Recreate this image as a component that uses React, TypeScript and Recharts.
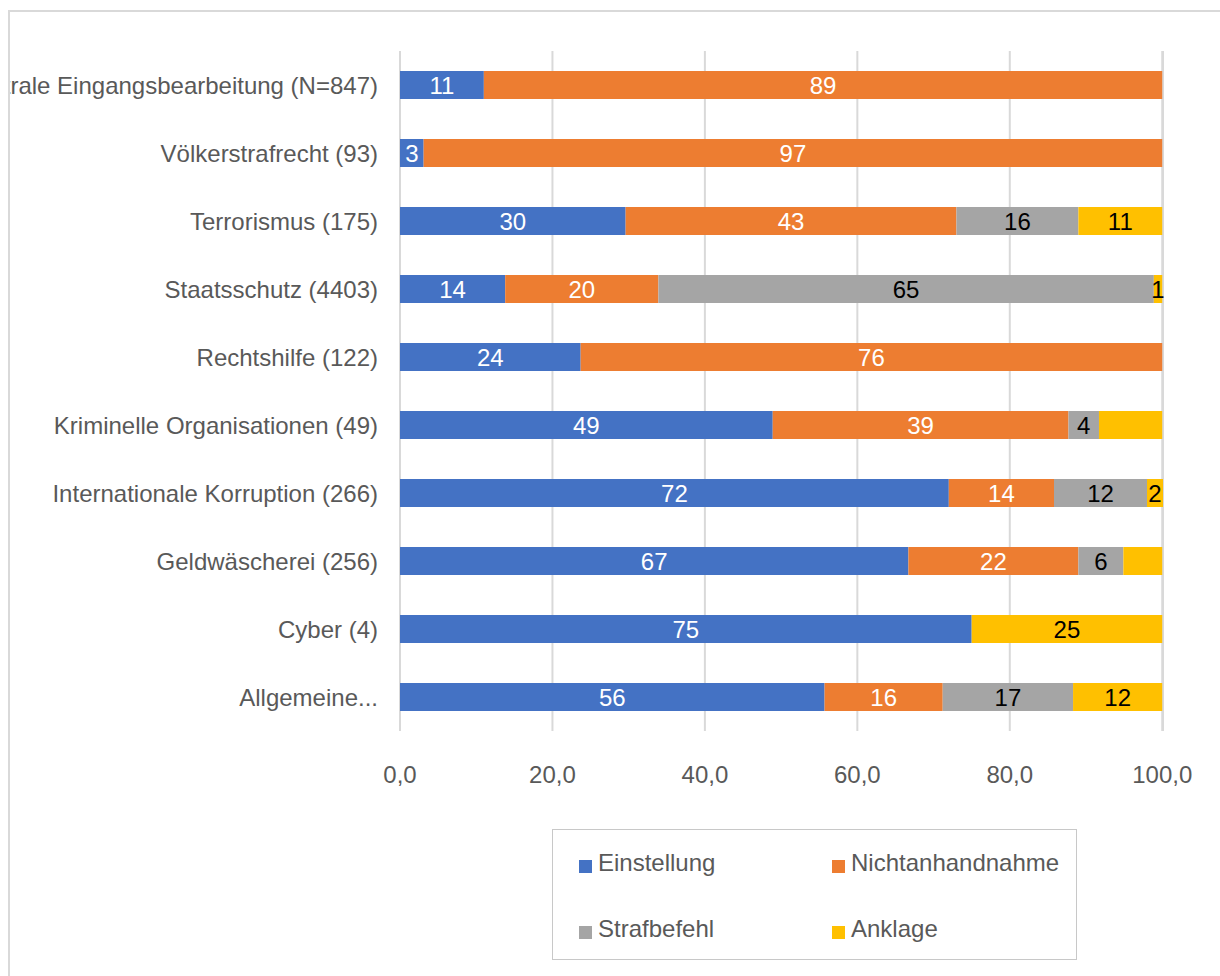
import { Bar, BarChart, CartesianGrid, LabelList, XAxis, YAxis } from "recharts";

const categories = [
  "Zentrale Eingangsbearbeitung (N=847)",
  "Völkerstrafrecht (93)",
  "Terrorismus (175)",
  "Staatsschutz (4403)",
  "Rechtshilfe (122)",
  "Kriminelle Organisationen (49)",
  "Internationale Korruption (266)",
  "Geldwäscherei (256)",
  "Cyber (4)",
  "Allgemeine...",
];

const einstellung = [11, 3.1, 29.6, 13.8, 23.7, 48.9, 72.0, 66.7, 75, 55.7];
const nichtanhandnahme = [89, 96.9, 43.4, 20.1, 76.3, 38.8, 13.8, 22.3, 0, 15.5];
const strafbefehl = [0, 0, 16, 65.0, 0, 4.0, 12.2, 5.9, 0, 17.1];
const anklage = [0, 0, 11, 1.1, 0, 8.3, 2.1, 5.1, 25, 11.7];

// labels that were removed in the original chart
const hiddenAnklageLabels = ["Kriminelle Organisationen (49)", "Geldwäscherei (256)"];

const xTicks = [0, 20, 40, 60, 80, 100];

const seriesDefs = [
  { key: "einstellung", name: "Einstellung", color: "#4472C4", labelColor: "#ffffff" },
  { key: "nichtanhandnahme", name: "Nichtanhandnahme", color: "#ED7D31", labelColor: "#ffffff" },
  { key: "strafbefehl", name: "Strafbefehl", color: "#A5A5A5", labelColor: "#000000" },
  { key: "anklage", name: "Anklage", color: "#FFC000", labelColor: "#000000" },
];

const toLabel = (v: number) => (v ? Math.round(v) : null);

const data = categories.map((name, i) => ({
  name,
  einstellung: einstellung[i],
  nichtanhandnahme: nichtanhandnahme[i],
  strafbefehl: strafbefehl[i],
  anklage: anklage[i],
  einstellungLabel: toLabel(einstellung[i]),
  nichtanhandnahmeLabel: toLabel(nichtanhandnahme[i]),
  strafbefehlLabel: toLabel(strafbefehl[i]),
  anklageLabel: hiddenAnklageLabels.includes(name) ? null : toLabel(anklage[i]),
}));

const FONT = '"Liberation Sans", Arial, sans-serif';

function makeLabel(fill: string) {
  return (props: any) => {
    const { x, y, width, height, value } = props;
    if (value === null || value === undefined || value === "") return null;
    return (
      <text
        x={x + width / 2}
        y={y + height / 2}
        dy="0.36em"
        textAnchor="middle"
        fill={fill}
        fontSize={24}
        fontFamily={FONT}
      >
        {value}
      </text>
    );
  };
}

export default function App() {
  return (
    <div
      style={{
        position: "absolute",
        left: 8,
        top: 10,
        width: 1212,
        height: 966,
        borderLeft: "2px solid #d9d9d9",
        borderTop: "2px solid #d9d9d9",
        overflow: "hidden",
        background: "#fff",
        fontFamily: FONT,
      }}
    >
      <BarChart
        width={1210}
        height={964}
        data={data}
        layout="vertical"
        margin={{ top: 39, right: 57, bottom: 185, left: 0 }}
        barSize={28}
      >
        <CartesianGrid horizontal={false} stroke="#d9d9d9" strokeWidth={2} />
        <XAxis
          type="number"
          domain={[0, 100]}
          ticks={xTicks}
          tickFormatter={(v: number) => v.toFixed(1).replace(".", ",")}
          axisLine={false}
          tickLine={false}
          tickSize={0}
          tickMargin={35}
          height={60}
          tick={{ fill: "#595959", fontSize: 24, fontFamily: FONT }}
        />
        <YAxis
          type="category"
          dataKey="name"
          width={390}
          axisLine={false}
          tickLine={false}
          tickSize={0}
          tickMargin={22}
          interval={0}
          tick={{ fill: "#595959", fontSize: 24, fontFamily: FONT }}
        />
        {seriesDefs.map((s) => (
          <Bar
            key={s.key}
            dataKey={s.key}
            name={s.name}
            stackId="a"
            fill={s.color}
            isAnimationActive={false}
          >
            <LabelList dataKey={`${s.key}Label`} content={makeLabel(s.labelColor)} />
          </Bar>
        ))}
      </BarChart>
      <div
        style={{
          position: "absolute",
          left: 542,
          top: 817,
          width: 523,
          height: 129,
          border: "1px solid #c8c8c8",
        }}
      >
        {seriesDefs.map((s, i) => (
          <div
            key={s.key}
            style={{
              position: "absolute",
              left: 26 + (i % 2) * 253,
              top: 18 + Math.floor(i / 2) * 66,
              display: "flex",
              alignItems: "center",
              height: 30,
              color: "#595959",
              fontSize: 24,
              whiteSpace: "nowrap",
            }}
          >
            <span
              style={{
                display: "inline-block",
                width: 13,
                height: 13,
                background: s.color,
                marginRight: 6,
                position: "relative",
                top: 3,
              }}
            />
            {s.name}
          </div>
        ))}
      </div>
    </div>
  );
}
